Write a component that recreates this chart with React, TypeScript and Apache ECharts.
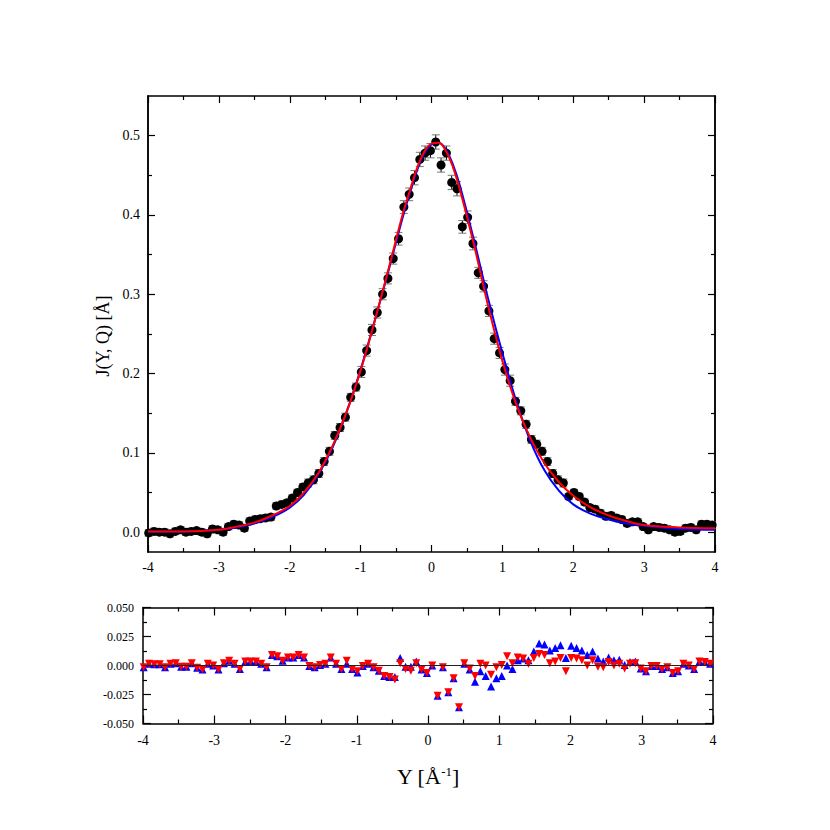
import React, { useEffect, useRef } from "react";
import * as echarts from "echarts";

// Momentum (Y) values of the measured points [Å^-1]
const xs = [
  -3.99, -3.915, -3.84, -3.765, -3.69, -3.615, -3.54, -3.465, -3.39, -3.315,
  -3.24, -3.165, -3.09, -3.015, -2.94, -2.865, -2.79, -2.715, -2.64, -2.565,
  -2.49, -2.415, -2.34, -2.265, -2.19, -2.115, -2.04, -1.965, -1.89, -1.815,
  -1.74, -1.665, -1.59, -1.515, -1.44, -1.365, -1.29, -1.215, -1.14, -1.065,
  -0.99, -0.915, -0.84, -0.765, -0.69, -0.615, -0.54, -0.465, -0.39, -0.315,
  -0.24, -0.165, -0.09, -0.015, 0.06, 0.135, 0.21, 0.285, 0.36, 0.435,
  0.51, 0.585, 0.66, 0.735, 0.81, 0.885, 0.96, 1.035, 1.11, 1.185,
  1.26, 1.335, 1.41, 1.485, 1.56, 1.635, 1.71, 1.785, 1.86, 1.935,
  2.01, 2.085, 2.16, 2.235, 2.31, 2.385, 2.46, 2.535, 2.61, 2.685,
  2.76, 2.835, 2.91, 2.985, 3.06, 3.135, 3.21, 3.285, 3.36, 3.435,
  3.51, 3.585, 3.66, 3.735, 3.81, 3.885, 3.96,
];

// Measured J(Y,Q)
const jData = [
  -0.001, 0.001, 0.0, 0.0, -0.002, 0.001, 0.003, 0.0, 0.001, 0.002,
  0.0, -0.002, 0.004, 0.003, 0.0, 0.007, 0.01, 0.009, 0.005, 0.014,
  0.016, 0.017, 0.018, 0.019, 0.033, 0.035, 0.037, 0.043, 0.05, 0.057,
  0.062, 0.066, 0.074, 0.089, 0.102, 0.122, 0.132, 0.145, 0.17, 0.183,
  0.202, 0.229, 0.255, 0.277, 0.3, 0.32, 0.345, 0.37, 0.41, 0.426,
  0.447, 0.47, 0.478, 0.481, 0.492, 0.463, 0.478, 0.441, 0.433, 0.385,
  0.397, 0.364, 0.327, 0.31, 0.279, 0.244, 0.226, 0.205, 0.191, 0.165,
  0.153, 0.136, 0.117, 0.111, 0.102, 0.089, 0.074, 0.066, 0.062, 0.045,
  0.05, 0.045, 0.038, 0.031, 0.029, 0.024, 0.02, 0.021, 0.018, 0.016,
  0.011, 0.013, 0.013, 0.007, 0.003, 0.007, 0.006, 0.005, 0.003, 0.0,
  0.001, 0.005, 0.006, 0.003, 0.01, 0.01, 0.009,
];

// Error bar half widths
const jErr = [
  0.004, 0.004, 0.004, 0.004, 0.004, 0.004, 0.004, 0.004, 0.004, 0.004,
  0.004, 0.004, 0.004, 0.004, 0.004, 0.004, 0.004, 0.004, 0.004, 0.004,
  0.004, 0.004, 0.004, 0.004, 0.004, 0.004, 0.004, 0.004, 0.004, 0.004,
  0.005, 0.005, 0.005, 0.005, 0.005, 0.005, 0.005, 0.005, 0.005, 0.005,
  0.007, 0.007, 0.007, 0.007, 0.007, 0.007, 0.007, 0.008, 0.008, 0.008,
  0.009, 0.009, 0.009, 0.009, 0.009, 0.009, 0.009, 0.009, 0.009, 0.008,
  0.008, 0.008, 0.007, 0.007, 0.007, 0.007, 0.007, 0.007, 0.007, 0.005,
  0.005, 0.005, 0.005, 0.005, 0.005, 0.005, 0.005, 0.005, 0.005, 0.004,
  0.004, 0.004, 0.004, 0.004, 0.004, 0.004, 0.004, 0.004, 0.004, 0.004,
  0.004, 0.004, 0.004, 0.004, 0.004, 0.004, 0.004, 0.004, 0.004, 0.004,
  0.004, 0.004, 0.004, 0.004, 0.004, 0.004, 0.004,
];

// Fit curves
const fitX = [
  -4, -3.5, -3, -2.75, -2.5, -2.25, -2, -1.8, -1.6, -1.4, -1.2, -1.0, -0.8, -0.6,
  -0.4, -0.3, -0.2, -0.1, 0, 0.1, 0.2, 0.3, 0.4, 0.6, 0.8, 1.0, 1.2, 1.4, 1.6,
  1.8, 2.0, 2.25, 2.5, 2.75, 3.0, 3.5, 4.0,
];
const fitBlue = [
  0.001, 0.001, 0.003, 0.006, 0.011, 0.019, 0.031, 0.047, 0.072, 0.106, 0.151, 0.205, 0.267, 0.332,
  0.399, 0.429, 0.457, 0.478, 0.489, 0.491, 0.483, 0.464, 0.437, 0.368, 0.294, 0.226, 0.164, 0.114, 0.077,
  0.052, 0.035, 0.023, 0.016, 0.011, 0.008, 0.004, 0.003,
];
const fitRed = [
  0.001, 0.001, 0.003, 0.007, 0.012, 0.021, 0.033, 0.05, 0.074, 0.108, 0.151, 0.204, 0.267, 0.334,
  0.403, 0.432, 0.46, 0.48, 0.49, 0.491, 0.481, 0.461, 0.432, 0.362, 0.285, 0.216, 0.16, 0.118, 0.086,
  0.063, 0.046, 0.031, 0.021, 0.014, 0.009, 0.006, 0.005,
];

// Residuals (data - fit)
const resBlue = [
  -0.0015, 0.0015, 0.001, 0.001, -0.0015, 0.0015, 0.002, -0.001, -0.001, 0.002,
  -0.002, -0.0035, 0.0015, 0, -0.0035, 0.002, 0.004, 0.0015, -0.003, 0.0035,
  0.0035, 0.0035, 0.0015, -0.0015, 0.009, 0.008, 0.004, 0.007, 0.007, 0.009,
  0.007, -0.0005, -0.0015, 0.0005, 0.0015, 0.007, 0.0015, -0.003, 0.0015, -0.003,
  -0.006, -0.0005, 0.0015, -0.0015, -0.0045, -0.009, -0.01, -0.01, 0.0065, -0.001,
  -0.001, 0.0035, -0.0035, -0.0065, 0, -0.026, -0.0015, -0.023, -0.011, -0.036,
  0.0015, -0.0035, -0.014, -0.005, -0.009, -0.018, -0.011, -0.009, 0, -0.003,
  0.0045, 0.006, 0.0045, 0.012, 0.019, 0.018, 0.013, 0.015, 0.0175, 0.0065,
  0.017, 0.015, 0.013, 0.009, 0.012, 0.006, 0.0035, 0.007, 0.0045, 0.005,
  0.0005, 0.003, 0.0035, -0.0025, -0.005, -0.0005, -0.0005, -0.003, -0.0015, -0.0065,
  -0.005, 0.0015, 0, -0.003, 0.0035, 0.003, 0.0015,
];
const resRed = [
  -0.0015, 0.0015, 0.001, 0.001, -0.0015, 0.0015, 0.002, -0.001, -0.001, 0.002,
  -0.002, -0.0035, 0.0015, 0, -0.0035, 0.002, 0.004, 0.0015, -0.003, 0.0035,
  0.0035, 0.0035, 0.0015, -0.0015, 0.009, 0.008, 0.004, 0.007, 0.007, 0.009,
  0.007, -0.0005, -0.0015, 0.0005, 0.0015, 0.007, 0.0015, -0.003, 0.004, -0.003,
  -0.005, -0.0005, 0.0015, -0.0015, -0.0045, -0.009, -0.01, -0.012, 0.002, -0.003,
  -0.0045, 0.002, -0.0035, -0.0065, 0, -0.026, -0.0015, -0.023, -0.011, -0.036,
  0.002, -0.0025, -0.009, 0.0015, 0, -0.008, -0.0015, 0.0005, 0.008, 0.002,
  0.007, 0.006, 0.0015, 0.0065, 0.01, 0.009, 0.002, 0.0035, 0.0065, -0.005,
  0.0065, 0.006, 0.0045, 0, 0.0045, -0.001, -0.0015, 0.003, 0, 0.0015,
  -0.0025, 0.0015, 0.002, -0.0025, -0.005, -0.0005, -0.0005, -0.003, -0.0015, -0.0065,
  -0.005, 0.0015, 0, -0.003, 0.0035, 0.003, 0.0015,
];

const topYMajor = [0, 0.1, 0.2, 0.3, 0.4, 0.5];
const topYMinor = [0.05, 0.15, 0.25, 0.35, 0.45];

const FONT = '"Liberation Serif", "Times New Roman", serif';

function xAxisDef(grid: number, pos: string, showLabel: boolean, tickLen: number, margin: number) {
  return {
    type: "value",
    gridIndex: grid,
    position: pos,
    min: -4,
    max: 4,
    interval: 1,
    axisLine: { show: true, onZero: false, lineStyle: { color: "#000", width: 1.5 } },
    axisTick: { show: true, inside: true, length: tickLen, lineStyle: { color: "#000", width: 1.2 } },
    minorTick: { show: true, splitNumber: 2, length: 4, lineStyle: { color: "#000", width: 1.2 } },
    axisLabel: { show: showLabel, color: "#000", fontFamily: FONT, fontSize: 14, margin },
    splitLine: { show: false },
    minorSplitLine: { show: false },
  };
}

function topYAxis(pos: string, values: number[], len: number, showLabel: boolean) {
  return {
    type: "value",
    gridIndex: 0,
    position: pos,
    min: -0.025,
    max: 0.55,
    axisLine: { show: true, onZero: false, lineStyle: { color: "#000", width: 1.5 } },
    axisTick: { show: true, inside: true, length: len, customValues: values, lineStyle: { color: "#000", width: 1.2 } },
    axisLabel: {
      show: showLabel,
      customValues: values,
      formatter: (v: number) => v.toFixed(1),
      color: "#000",
      fontFamily: FONT,
      fontSize: 14,
      margin: 8,
    },
    splitLine: { show: false },
  };
}

function botYAxis(pos: string, showLabel: boolean) {
  return {
    type: "value",
    gridIndex: 1,
    position: pos,
    min: -0.05,
    max: 0.05,
    interval: 0.025,
    axisLine: { show: true, onZero: false, lineStyle: { color: "#000", width: 1.5 } },
    axisTick: { show: true, inside: true, length: 8, lineStyle: { color: "#000", width: 1.2 } },
    minorTick: { show: true, splitNumber: 2, length: 4, lineStyle: { color: "#000", width: 1.2 } },
    axisLabel: {
      show: showLabel,
      formatter: (v: number) => v.toFixed(3),
      color: "#000",
      fontFamily: FONT,
      fontSize: 12,
      margin: 9,
    },
    splitLine: { show: false },
    minorSplitLine: { show: false },
  };
}

export default function App() {
  const ref = useRef<HTMLDivElement>(null);
  useEffect(() => {
    if (!ref.current) return;
    const chart = echarts.init(ref.current, undefined, { renderer: "svg" });
    const option: any = {
      animation: false,
      backgroundColor: "#fff",
      grid: [
        { left: 148, top: 96, width: 567, height: 456 },
        { left: 143, top: 607.5, width: 570, height: 116 },
      ],
      xAxis: [
        xAxisDef(0, "bottom", true, 7, 8),
        xAxisDef(0, "top", false, 7, 8),
        xAxisDef(1, "bottom", true, 8, 10),
        xAxisDef(1, "top", false, 8, 10),
      ],
      yAxis: [
        topYAxis("left", topYMajor, 7, true),
        topYAxis("left", topYMinor, 4, false),
        topYAxis("right", topYMajor, 7, false),
        topYAxis("right", topYMinor, 4, false),
        botYAxis("left", true),
        botYAxis("right", false),
      ],
      graphic: [
        {
          type: "text",
          x: 103,
          y: 336,
          rotation: Math.PI / 2,
          style: {
            text: "J(Y, Q) [Å]",
            fontFamily: FONT,
            fontSize: 18,
            fill: "#000",
            align: "center",
            verticalAlign: "middle",
          },
        },
        {
          type: "text",
          x: 428,
          y: 776,
          style: {
            text: "Y [Å{sup|-1}]",
            fontFamily: FONT,
            fontSize: 22,
            fill: "#000",
            align: "center",
            verticalAlign: "middle",
            rich: {
              sup: { fontFamily: FONT, fontSize: 13, fill: "#000", verticalAlign: "top" },
            },
          },
        },
      ],
      series: [
        {
          type: "custom",
          xAxisIndex: 0,
          yAxisIndex: 0,
          silent: true,
          z: 2,
          data: xs.map((x, i) => [x, jData[i], jErr[i]]),
          renderItem: (params: any, api: any) => {
            const x = api.value(0);
            const y = api.value(1);
            const e = api.value(2);
            const top = api.coord([x, y + e]);
            const bot = api.coord([x, y - e]);
            const hw = 4;
            return {
              type: "group",
              children: [
                { type: "line", shape: { x1: top[0], y1: top[1], x2: bot[0], y2: bot[1] }, style: { stroke: "#000", lineWidth: 1 } },
                { type: "line", shape: { x1: top[0] - hw, y1: top[1], x2: top[0] + hw, y2: top[1] }, style: { stroke: "#777", lineWidth: 1 } },
                { type: "line", shape: { x1: bot[0] - hw, y1: bot[1], x2: bot[0] + hw, y2: bot[1] }, style: { stroke: "#777", lineWidth: 1 } },
              ],
            };
          },
        },
        {
          type: "scatter",
          xAxisIndex: 0,
          yAxisIndex: 0,
          z: 3,
          symbol: "circle",
          symbolSize: 9,
          itemStyle: { color: "#000", opacity: 1 },
          data: xs.map((x, i) => [x, jData[i]]),
        },
        {
          type: "line",
          xAxisIndex: 0,
          yAxisIndex: 0,
          z: 4,
          smooth: 0.4,
          showSymbol: false,
          lineStyle: { color: "#0000ff", width: 2 },
          data: fitX.map((x, i) => [x, fitBlue[i]]),
        },
        {
          type: "line",
          xAxisIndex: 0,
          yAxisIndex: 0,
          z: 5,
          smooth: 0.4,
          showSymbol: false,
          lineStyle: { color: "#ff0000", width: 2 },
          data: fitX.map((x, i) => [x, fitRed[i]]),
        },
        {
          type: "scatter",
          xAxisIndex: 2,
          yAxisIndex: 4,
          z: 3,
          symbol: "triangle",
          symbolSize: 8,
          itemStyle: { color: "#0000ff", opacity: 1 },
          data: xs.map((x, i) => [x, resBlue[i]]),
          markLine: {
            silent: true,
            symbol: ["none", "none"],
            label: { show: false },
            lineStyle: { color: "#222", width: 1.2, type: "solid" },
            data: [{ yAxis: 0 }],
          },
        },
        {
          type: "scatter",
          xAxisIndex: 2,
          yAxisIndex: 4,
          z: 4,
          symbol: "triangle",
          symbolRotate: 180,
          symbolSize: 8,
          itemStyle: { color: "#ff0000", opacity: 1 },
          data: xs.map((x, i) => [x, resRed[i]]),
        },
      ],
    };
    chart.setOption(option);
    return () => chart.dispose();
  }, []);
  return <div ref={ref} style={{ position: "absolute", left: 0, top: 0, width: 830, height: 830 }} />;
}
